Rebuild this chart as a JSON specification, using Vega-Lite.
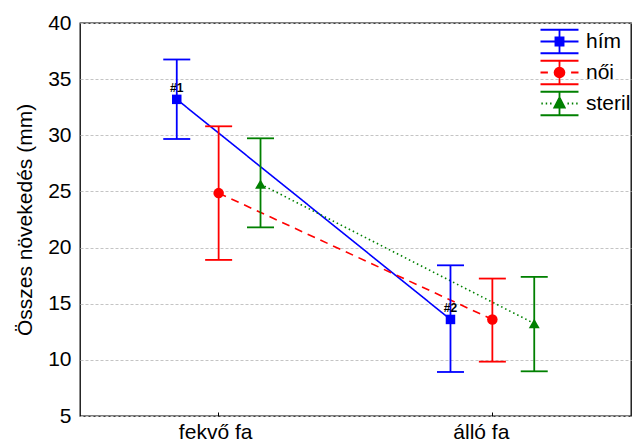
{
  "$schema": "https://vega.github.io/schema/vega-lite/v6.json",
  "autosize": {"type": "none"},
  "padding": {"left": 80, "top": 23, "right": 9, "bottom": 31},
  "width": 551,
  "height": 393,
  "config": {
    "font": "Liberation Sans",
    "view": {"stroke": "#000000", "strokeWidth": 1.3},
    "axis": {"labelColor": "#000000", "titleColor": "#000000", "labelFont": "Liberation Sans", "titleFont": "Liberation Sans"}
  },
  "data": {
    "values": [
      {"hely": "fekvő fa", "nem": "hím", "mean": 33.2, "lo": 29.67, "hi": 36.75, "label": "#1"},
      {"hely": "fekvő fa", "nem": "női", "mean": 24.85, "lo": 18.9, "hi": 30.8, "label": ""},
      {"hely": "fekvő fa", "nem": "steril", "mean": 25.65, "lo": 21.8, "hi": 29.73, "label": ""},
      {"hely": "álló fa", "nem": "hím", "mean": 13.6, "lo": 8.92, "hi": 18.42, "label": "#2"},
      {"hely": "álló fa", "nem": "női", "mean": 13.6, "lo": 9.84, "hi": 17.24, "label": ""},
      {"hely": "álló fa", "nem": "steril", "mean": 13.24, "lo": 8.98, "hi": 17.39, "label": ""}
    ]
  },
  "encoding": {
    "x": {
      "field": "hely", "type": "nominal",
      "scale": {"type": "band", "domain": ["fekvő fa", "álló fa"], "paddingInner": 0.541, "paddingOuter": 0.277},
      "axis": {"title": null, "labelAngle": 0, "labelFontSize": 21, "domain": false, "grid": false, "ticks": true, "tickSize": -4, "tickColor": "#000000", "labelPadding": 9,
        "labelOffset": {"condition": {"test": "datum.value === 'álló fa'", "value": -11}, "value": -3}}
    },
    "xOffset": {"field": "nem", "type": "nominal", "scale": {"domain": ["hím", "női", "steril"], "paddingInner": 0, "paddingOuter": 0}},
    "y": {
      "field": "mean", "type": "quantitative",
      "scale": {"domain": [5, 40], "nice": false, "zero": false},
      "axis": {"title": "Összes növekedés (mm)", "titleFontSize": 21, "titleFontWeight": "normal", "titlePadding": 12, "labelFontSize": 21, "values": [5, 10, 15, 20, 25, 30, 35, 40], "grid": true, "gridDash": [3, 2], "gridColor": "#c4c4c4", "domain": false, "ticks": false, "labelPadding": 9}
    }
  },
  "layer": [
    {
      "mark": {"type": "line", "strokeWidth": 1.6},
      "encoding": {
        "color": {"field": "nem", "type": "nominal", "scale": {"domain": ["hím", "női", "steril"], "range": ["#0000ff", "#ff0000", "#008000"]}, "legend": null},
        "strokeDash": {"field": "nem", "type": "nominal", "scale": {"domain": ["hím", "női", "steril"], "range": [[1, 0], [8, 6], [1.5, 3]]}, "legend": null}
      }
    },
    {
      "mark": {"type": "rule", "strokeWidth": 1.8},
      "encoding": {
        "y": {"field": "lo", "type": "quantitative"},
        "y2": {"field": "hi"},
        "color": {"field": "nem", "type": "nominal", "legend": null}
      }
    },
    {
      "mark": {"type": "point", "shape": "stroke", "size": 729, "strokeWidth": 1.8, "filled": false, "opacity": 1},
      "encoding": {
        "y": {"field": "lo", "type": "quantitative"},
        "color": {"field": "nem", "type": "nominal", "legend": null}
      }
    },
    {
      "mark": {"type": "point", "shape": "stroke", "size": 729, "strokeWidth": 1.8, "filled": false, "opacity": 1},
      "encoding": {
        "y": {"field": "hi", "type": "quantitative"},
        "color": {"field": "nem", "type": "nominal", "legend": null}
      }
    },
    {
      "transform": [{"filter": "datum.nem === 'hím'"}],
      "mark": {"type": "point", "shape": "square", "size": 90, "filled": true, "opacity": 1},
      "encoding": {"color": {"field": "nem", "type": "nominal", "legend": null}}
    },
    {
      "transform": [{"filter": "datum.nem === 'női'"}],
      "mark": {"type": "point", "shape": "circle", "size": 110, "filled": true, "opacity": 1},
      "encoding": {"color": {"field": "nem", "type": "nominal", "legend": null}}
    },
    {
      "transform": [{"filter": "datum.nem === 'steril'"}],
      "mark": {"type": "point", "shape": "triangle-up", "size": 120, "filled": true, "opacity": 1},
      "encoding": {"color": {"field": "nem", "type": "nominal", "legend": null}}
    },
    {
      "mark": {"type": "text", "fontSize": 12, "fontWeight": "bold", "dy": -11, "baseline": "middle", "color": "#000000"},
      "encoding": {"text": {"field": "label"}}
    },
    {
      "mark": {"type": "point", "filled": true, "opacity": 0},
      "encoding": {
        "fill": {"field": "nem", "type": "nominal", "scale": {"range": ["#0000ff", "#ff0000", "#008000"]},
          "legend": {"title": null, "orient": "none", "legendX": 464, "legendY": 3, "padding": 0, "rowPadding": 0, "symbolSize": 841, "symbolStrokeWidth": 1.8, "symbolOpacity": 1, "labelFontSize": 21, "labelOffset": 11, "labelColor": "#000000", "labelFont": "Liberation Sans"}},
        "stroke": {"field": "nem", "type": "nominal", "scale": {"range": ["#0000ff", "#ff0000", "#008000"]},
          "legend": {"title": null, "orient": "none", "legendX": 464, "legendY": 3, "padding": 0, "rowPadding": 0, "symbolSize": 841, "symbolStrokeWidth": 1.8, "symbolOpacity": 1, "labelFontSize": 21, "labelOffset": 11, "labelColor": "#000000", "labelFont": "Liberation Sans"}},
        "shape": {"field": "nem", "type": "nominal",
          "scale": {"range": [
            "M-1.31,-0.81H1.31M-1.31,0.81H1.31M0,-0.81V0.81M-1.31,0H1.31M-0.28,-0.28H0.28V0.28H-0.28Z",
            "M-1.31,-0.81H1.31M-1.31,0.81H1.31M0,-0.81V0.81M-1.31,0H-0.8M0.8,0H1.31M-0.34,0A0.34,0.34,0,1,0,0.34,0A0.34,0.34,0,1,0,-0.34,0Z",
            "M-1.31,-0.81H1.31M-1.31,0.81H1.31M0,-0.81V0.81M-1.25,0H-1.15M-0.95,0H-0.85M-0.65,0H-0.55M0.55,0H0.65M0.85,0H0.95M1.15,0H1.25M0,-0.42L0.36,0.28L-0.36,0.28Z"
          ]},
          "legend": {"title": null, "orient": "none", "legendX": 464, "legendY": 3, "padding": 0, "rowPadding": 0, "symbolSize": 841, "symbolStrokeWidth": 1.8, "symbolOpacity": 1, "labelFontSize": 21, "labelOffset": 11, "labelColor": "#000000", "labelFont": "Liberation Sans"}}
      }
    }
  ]
}
